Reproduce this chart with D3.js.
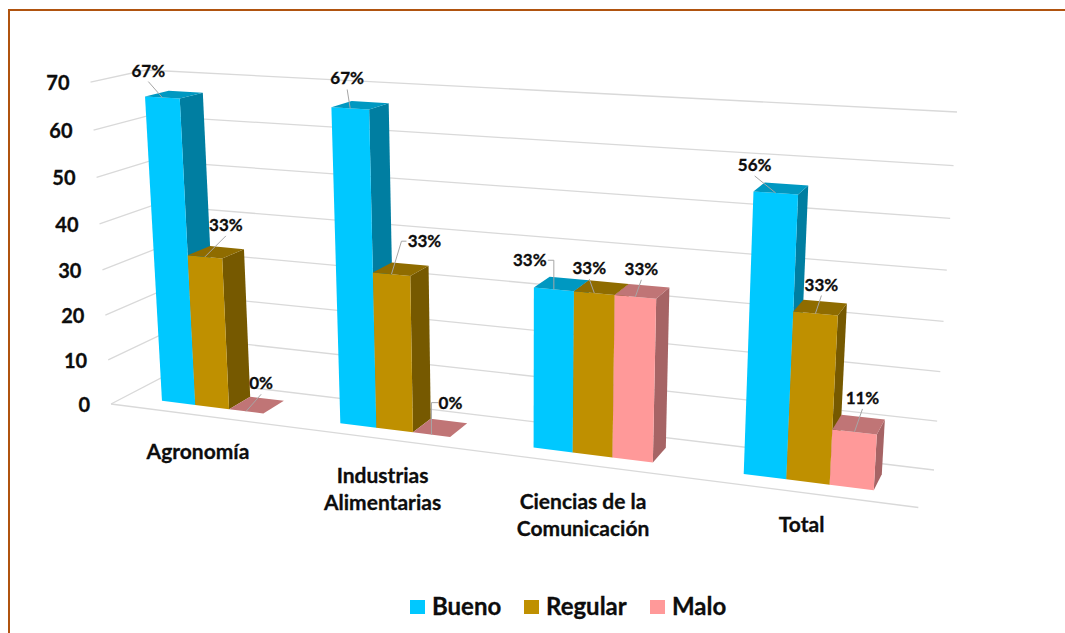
<!DOCTYPE html>
<html>
<head>
<meta charset="utf-8">
<script src="https://cdn.jsdelivr.net/npm/d3@7"></script>
<style>
  html, body { margin: 0; padding: 0; background: #fff; overflow: hidden; }
  text { font-family: Lato, "Open Sans", sans-serif; font-weight: 700; fill: #0d0d0d; stroke: #0d0d0d; stroke-width: 0.3px; }
</style>
</head>
<body>
<svg id="chart" width="1065" height="633" viewBox="0 0 1065 633"></svg>
<script>
// --- Data ---
const categories = ["Agronomía", "Industrias Alimentarias", "Ciencias de la Comunicación", "Total"];
const seriesNames = ["Bueno", "Regular", "Malo"];
const bueno = [66.67, 66.67, 33.33, 55.56];
const regular = [33.33, 33.33, 33.33, 33.33];
const malo = [0, 0, 33.33, 11.11];
const valueTicks = [0, 10, 20, 30, 40, 50, 60, 70];
const categoryLines = [["Agronomía"], ["Industrias", "Alimentarias"], ["Ciencias de la", "Comunicación"], ["Total"]];

// --- Layout ---
const colors = {
    Bueno: { front: "#00c8ff", top: "#0098c1", side: "#007ea1" },
    Regular: { front: "#bf9000", top: "#8f6c00", side: "#765900" },
    Malo: { front: "#ff9999", top: "#c07576", side: "#a66465" },
};
const gridColor = "#d9d9d9";

// where the box corners land on the page
const O = [163, 377];   // back left floor
const A = [934, 470];   // back right floor
const B = [146, 70];    // back left top
const C = [111, 404];   // front left floor
const D = [957, 112];   // back right top
const F = [93, 82];     // front left top

// label offset from the bar's front top edge, [dx, dy, elbowDx]
const labelOffsets = {
    Bueno: [[-14, -27], [-3, -30], [-24, -29, 0], [-21, -28]],
    Regular: [[21, -32], [33, -33, 10], [-5, -25], [6, -29]],
    Malo: [[15, -28], [19, -32, 0], [6, -28], [8, -34]],
};
const categoryDy = [37, 37, 37, 32];

const svg = d3.select("#chart");

// --- Projection (box coords u, v, w in 0..1 to page) ---
const sub = (p, q) => [p[0] - q[0], p[1] - q[1]];
const r1 = sub(A, D), r2 = sub(B, D);
const rhs = [D[0] + O[0] - A[0] - B[0], D[1] + O[1] - A[1] - B[1]];
const det = r1[0] * r2[1] - r1[1] * r2[0];
const ka = (rhs[0] * r2[1] - rhs[1] * r2[0]) / det;
const kb = (r1[0] * rhs[1] - r1[1] * rhs[0]) / det;
const r3 = sub(C, F), r4 = sub(B, F);
const rhs2 = [F[0] + O[0] - B[0] - C[0] - r4[0] * kb, F[1] + O[1] - B[1] - C[1] - r4[1] * kb];
const kc = (r3[0] * rhs2[0] + r3[1] * rhs2[1]) / (r3[0] * r3[0] + r3[1] * r3[1]);
const Nu = sub(A.map(d => d * (1 + ka)), O);
const Nv = sub(B.map(d => d * (1 + kb)), O);
const Nw = sub(C.map(d => d * (1 + kc)), O);

function project(u, v, w) {
    const h = 1 + ka * u + kb * v + kc * w;
    return [
        (O[0] + Nu[0] * u + Nv[0] * v + Nw[0] * w) / h,
        (O[1] + Nu[1] * u + Nv[1] * v + Nw[1] * w) / h,
    ];
}

// --- Scales ---
const xCat = d3.scaleBand().domain(categories).range([0, 1]);
const xSeries = d3.scaleBand().domain(seriesNames).range([0, xCat.bandwidth()]).paddingInner(0).paddingOuter(1.095);
const yValue = d3.scaleLinear().domain([0, 70]).range([0, 1]);
const zDepth = d3.scaleBand().domain(["bar"]).range([0, 1]).padding(0.389);

const poly = d3.line();

// --- Frame ---
svg.append("path").attr("d", "M9,633V10H1065").attr("fill", "none").attr("stroke", "#b0530f").attr("stroke-width", 2);

// --- Walls ---
const grid = svg.append("g").attr("fill", "none").attr("stroke", gridColor).attr("stroke-width", 1.3);
valueTicks.forEach(t => {
    const v = yValue(t);
    grid.append("path").attr("d", poly([project(0, v, 1), project(0, v, 0), project(1, v, 0)]));
});
grid.append("path").attr("d", poly([project(0, 0, 1), project(1, 0, 1)]));

svg.append("g").selectAll("text").data(valueTicks).enter().append("text")
    .attr("x", d => project(0, yValue(d), 1)[0] - 21)
    .attr("y", d => project(0, yValue(d), 1)[1] + 8)
    .attr("text-anchor", "end")
    .attr("font-size", 20)
    .text(d => d);

// --- Bars ---
const seriesValues = { Bueno: bueno, Regular: regular, Malo: malo };
const zBack = zDepth("bar"), zFront = zBack + zDepth.bandwidth();
const barsG = svg.append("g");
const leaders = svg.append("g").attr("fill", "none").attr("stroke", "#a6a6a6").attr("stroke-width", 1);
const labels = svg.append("g");

categories.forEach((cat, i) => {
    seriesNames.forEach(name => {
        const val = seriesValues[name][i];
        const u0 = xCat(cat) + xSeries(name), u1 = u0 + xSeries.bandwidth();
        const v = yValue(val);
        const g = barsG.append("g");
        const c = colors[name];
        g.append("path").attr("fill", c.side)
            .attr("d", poly([project(u1, 0, zFront), project(u1, 0, zBack), project(u1, v, zBack), project(u1, v, zFront)]) + "Z");
        g.append("path").attr("fill", c.front)
            .attr("d", poly([project(u0, 0, zFront), project(u1, 0, zFront), project(u1, v, zFront), project(u0, v, zFront)]) + "Z");
        g.append("path").attr("fill", c.top)
            .attr("d", poly([project(u0, v, zFront), project(u1, v, zFront), project(u1, v, zBack), project(u0, v, zBack)]) + "Z");

        // data label with its leader
        const end = project((u0 + u1) / 2, v, zFront);
        const [dx, dy, elbowDx] = labelOffsets[name][i];
        const lx = end[0] + dx, ly = end[1] + dy;
        labels.append("text")
            .attr("x", lx).attr("y", ly + 6)
            .attr("text-anchor", "middle")
            .attr("font-size", 17)
            .text(Math.round(val) + "%");
        const half = (val < 1 ? 12 : 18) * Math.sign(dx);
        const pts = elbowDx !== undefined
            ? [end, [end[0] + elbowDx, ly], [lx - half, ly]]
            : [end, [lx, ly + 11]];
        leaders.append("path").attr("d", poly(pts));
    });
});
svg.node().appendChild(leaders.node());
svg.node().appendChild(labels.node());

// --- Category labels ---
const catG = svg.append("g");
categories.forEach((cat, i) => {
    const p = project(xCat(cat) + xCat.bandwidth() / 2, 0, 1);
    categoryLines[i].forEach((line, j) => {
        catG.append("text")
            .attr("x", p[0]).attr("y", p[1] + categoryDy[i] + 7 + j * 27)
            .attr("text-anchor", "middle")
            .attr("font-size", 21)
            .text(line);
    });
});

// --- Legend ---
const legendX = d3.scaleOrdinal().domain(seriesNames).range([410, 524, 650]);
const legend = svg.append("g").selectAll("g").data(seriesNames).enter().append("g")
    .attr("transform", d => `translate(${legendX(d)},600)`);
legend.append("rect").attr("width", 15).attr("height", 14).attr("fill", d => colors[d].front);
legend.append("text").attr("x", 22).attr("y", 15).attr("font-size", 24).text(d => d);
</script>
</body>
</html>
